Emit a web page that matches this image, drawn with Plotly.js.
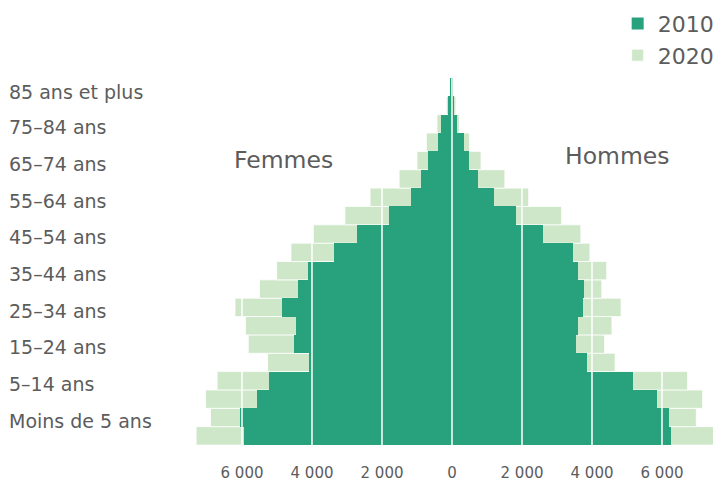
<!DOCTYPE html>
<html>
<head>
<meta charset="utf-8">
<script src="https://cdn.plot.ly/plotly-3.0.1.min.js"></script>
<style>
  html, body { margin: 0; padding: 0; background: #fff; }
  #myPlot { width: 713px; height: 481px; }
</style>
</head>
<body>
<div id="myPlot"></div>
<script>
// age groups, bottom (youngest) to top
const ageGroups = ['0-4', '5-9', '10-14', '15-19', '20-24', '25-29', '30-34', '35-39', '40-44', '45-49',
  '50-54', '55-59', '60-64', '65-69', '70-74', '75-79', '80-84', '85-89', '90-94', '95+'];

const femmes2010 = [5930, 6060, 5580, 5240, 4090, 4510, 4460, 4860, 4400, 4120, 3370, 2720, 1800, 1180, 890, 680, 410, 310, 110, 50];
const femmes2020 = [7310, 6900, 7040, 6710, 5270, 5820, 5900, 6200, 5500, 5010, 4600, 3960, 3060, 2340, 1510, 1000, 730, 430, 160, 70];
const hommes2010 = [6260, 6190, 5850, 5160, 3850, 3530, 3590, 3750, 3780, 3610, 3450, 2610, 1820, 1190, 750, 500, 340, 130, 70, 30];
const hommes2020 = [7700, 6980, 7160, 6730, 4660, 4360, 4570, 4830, 4280, 4420, 3940, 3680, 3130, 2190, 1510, 830, 500, 210, 110, 45];

const yLabels = ['Moins de 5 ans', '5\u201314 ans', '15\u201324 ans', '25\u201334 ans', '35\u201344 ans',
  '45\u201354 ans', '55\u201364 ans', '65\u201374 ans', '75\u201384 ans', '85 ans et plus'];
const yLabelPos = [0.8, 2.8, 4.8, 6.8, 8.8, 10.8, 12.8, 14.8, 16.8, 18.7];

const xTickVals = [-6000, -4000, -2000, 0, 2000, 4000, 6000];
const xTickText = ['6 000', '4 000', '2 000', '0', '2 000', '4 000', '6 000'];

const font = 'DejaVu Sans, sans-serif';
const grey = '#5c5c5c';

const rows = ageGroups.map((g, i) => i);

// one trace per year, women on the left (negative), men on the right
function yearTrace(name, fem, hom, color, line) {
  return {
    type: 'bar',
    orientation: 'h',
    name: name,
    x: fem.map(v => -v).concat(hom),
    y: rows.concat(rows),
    width: 1,
    marker: { color: color, line: line },
    hoverinfo: 'skip'
  };
}

const trace2020 = yearTrace('2020', femmes2020, hommes2020, '#cfe7c9', { color: 'rgba(255,255,255,0.75)', width: 1 });
const trace2010 = yearTrace('2010', femmes2010, hommes2010, '#28a27c', { width: 0 });

// white vertical grid drawn over the bars
const gridShapes = xTickVals.map(v => ({
  type: 'line', xref: 'x', yref: 'paper', x0: v, x1: v, y0: 0, y1: 1,
  layer: 'above', line: { color: '#ffffff', width: 1.5 }
}));

const layout = {
  width: 713,
  height: 481,
  margin: { l: 5, r: 0, t: 78, b: 36, autoexpand: false },
  paper_bgcolor: '#ffffff',
  plot_bgcolor: '#ffffff',
  barmode: 'overlay',
  bargap: 0,
  font: { family: font, color: grey },
  showlegend: true,
  legend: {
    x: 1.008, xanchor: 'right', y: 1.205, yanchor: 'top',
    traceorder: 'reversed',
    font: { family: font, size: 22, color: grey },
    bgcolor: 'rgba(0,0,0,0)',
    itemwidth: 30
  },
  xaxis: {
    domain: [0.2627, 1],
    range: [-7457, 7457],
    tickmode: 'array',
    tickvals: xTickVals,
    ticktext: xTickText,
    ticks: 'outside',
    ticklen: 14,
    tickcolor: 'rgba(0,0,0,0)',
    tickfont: { family: font, size: 15, color: grey },
    showgrid: false,
    zeroline: false,
    showline: false,
    fixedrange: true
  },
  yaxis: {
    anchor: 'free',
    position: 0,
    range: [-0.5, 19.5],
    tickmode: 'array',
    tickvals: yLabelPos,
    ticktext: yLabels,
    ticklabelposition: 'inside',
    ticks: '',
    tickfont: { family: font, size: 19, color: grey },
    showgrid: false,
    zeroline: false,
    showline: false,
    fixedrange: true
  },
  shapes: gridShapes,
  annotations: [
    { text: 'Femmes', xref: 'x', yref: 'paper', x: -4800, y: 0.776, yanchor: 'middle', showarrow: false,
      font: { family: font, size: 23.5, color: grey } },
    { text: 'Hommes', xref: 'x', yref: 'paper', x: 4740, y: 0.787, yanchor: 'middle', showarrow: false,
      font: { family: font, size: 23.5, color: grey } }
  ]
};

Plotly.newPlot('myPlot', [trace2020, trace2010], layout, { displayModeBar: false, staticPlot: true });
</script>
</body>
</html>
